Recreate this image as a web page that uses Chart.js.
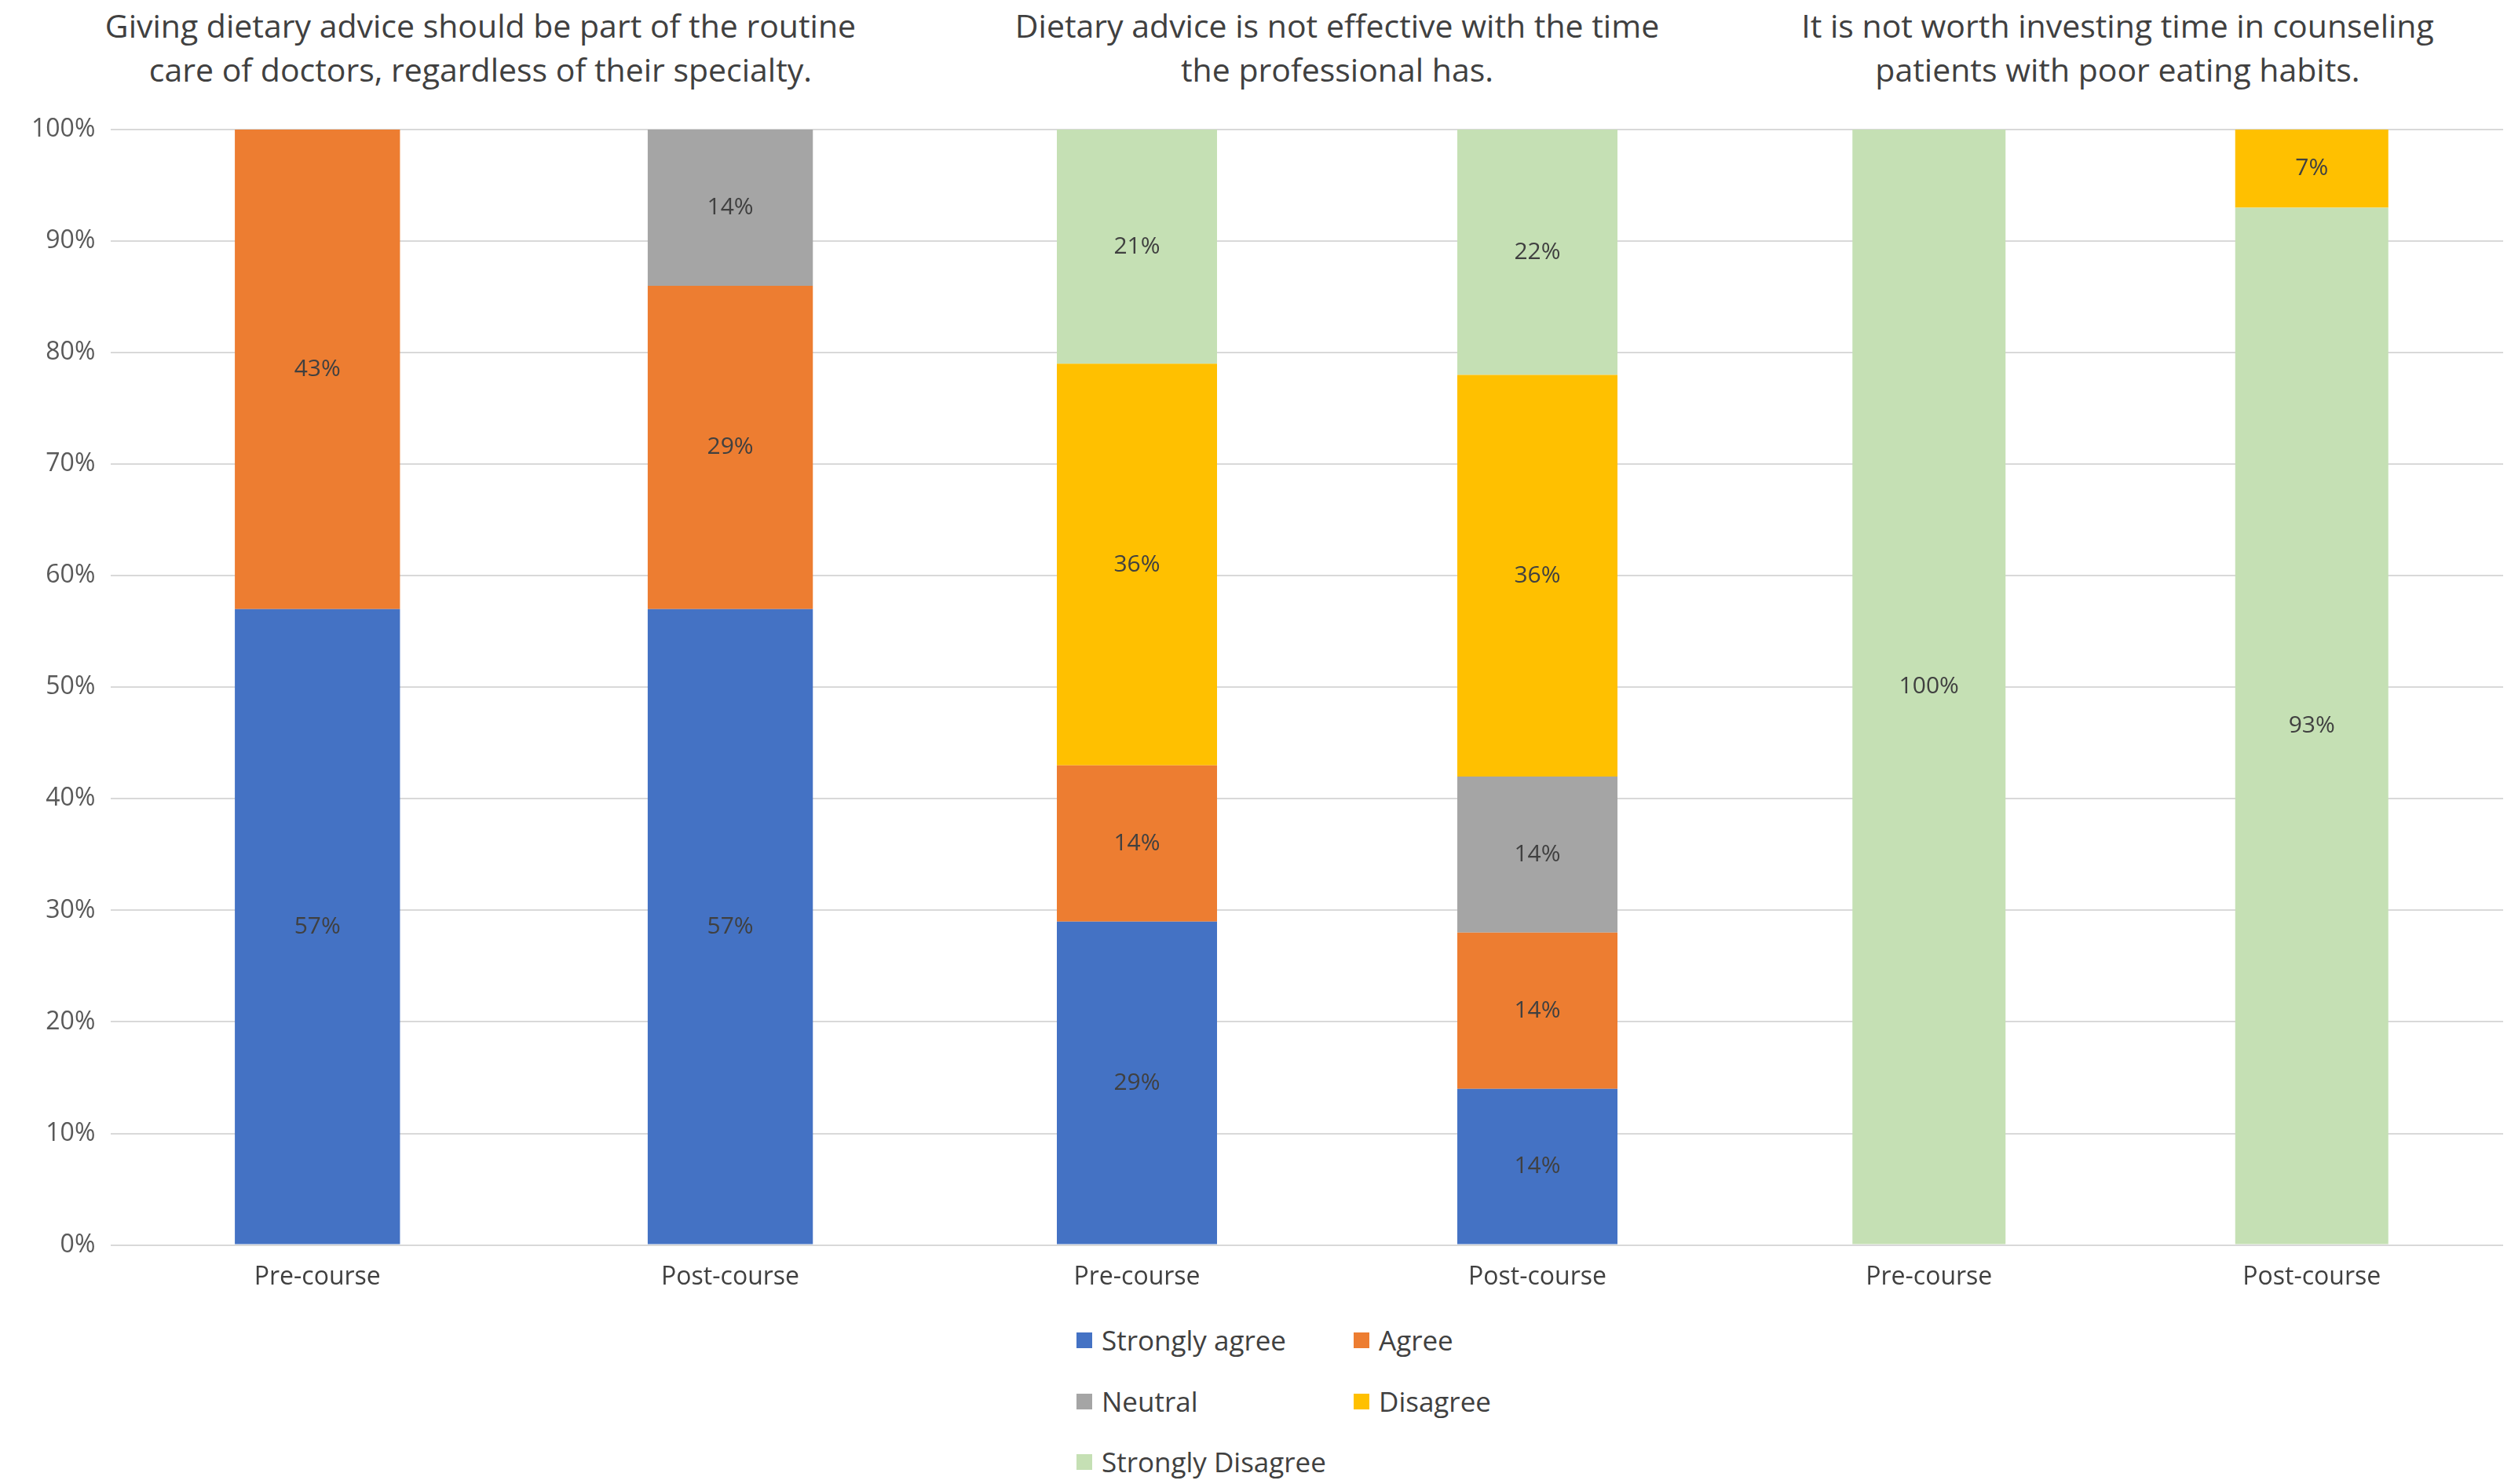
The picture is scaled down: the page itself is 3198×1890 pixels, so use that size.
<!DOCTYPE html>
<html><head><meta charset="utf-8">
<script src="https://cdn.jsdelivr.net/npm/chart.js@4"></script>
<style>
body{margin:0;background:#fff;width:3198px;height:1890px;position:relative;overflow:hidden;font-family:"Open Sans",Calibri,sans-serif;color:#404040}
.t{position:absolute;top:4px;font-size:41px;line-height:56px;text-align:center;width:1100px}
.p{position:absolute;top:0;height:1660px}
.lg{position:absolute;font-size:35px;color:#404040;display:flex;align-items:center}
.lg i{display:inline-block;width:20px;height:20px;margin-right:12px}
</style></head><body>
<div class="t" style="left:62px">Giving dietary advice should be part of the routine<br>care of doctors, regardless of their specialty.</div>
<div class="t" style="left:1153px">Dietary advice is not effective with the time<br>the professional has.</div>
<div class="t" style="left:2147px">It is not worth investing time in counseling<br>patients with poor eating habits.</div>
<div class="p" style="left:0;width:1193px"><canvas id="c1"></canvas></div>
<div class="p" style="left:1193px;width:1020px"><canvas id="c2"></canvas></div>
<div class="p" style="left:2213px;width:975px"><canvas id="c3"></canvas></div>
<div id="legend"></div>
<script>
// ---- data ----
const categories = ['Pre-course', 'Post-course'];
const yTicks = [0,10,20,30,40,50,60,70,80,90,100];
const labelsAll = ['Strongly agree','Agree','Neutral','Disagree','Strongly Disagree'];
const colors = {'Strongly agree':'#4472C4','Agree':'#ED7D31','Neutral':'#A5A5A5','Disagree':'#FFC000','Strongly Disagree':'#C5E0B4'};

// panel 1 (bottom -> top)
const p1Order = ['Strongly agree','Agree','Neutral'];
const p1Values = [[57,57],[43,29],[0,14]];
// panel 2
const p2Order = ['Strongly agree','Agree','Neutral','Disagree','Strongly Disagree'];
const p2Values = [[29,14],[14,14],[0,14],[36,36],[21,22]];
// panel 3
const p3Order = ['Strongly Disagree','Disagree'];
const p3Values = [[100,93],[0,7]];

const valueLabels = {
  id:'valueLabels',
  afterDatasetsDraw(chart){
    const ctx = chart.ctx;
    ctx.save();
    ctx.font = '30px "Open Sans", sans-serif';
    ctx.fillStyle = '#404040';
    ctx.textAlign = 'center'; ctx.textBaseline = 'middle';
    chart.data.datasets.forEach((ds,i)=>{
      chart.getDatasetMeta(i).data.forEach((bar,j)=>{
        const v = ds.data[j];
        if(!v) return;
        ctx.fillText(v+'%', bar.x, (bar.y+bar.base)/2);
      });
    });
    ctx.restore();
  }
};

function makeChart(id, order, values, showY, barPct){
  new Chart(document.getElementById(id), {
    type:'bar',
    data:{
      labels: categories,
      datasets: order.map((name,i)=>({
        label:name, data:values[i], backgroundColor:colors[name],
        barPercentage:barPct, categoryPercentage:1
      }))
    },
    options:{
      responsive:true, maintainAspectRatio:false, animation:false,
      layout:{padding:{top:165, right:0, left: showY?20:0, bottom:0}},
      plugins:{legend:{display:false}, tooltip:{enabled:false}},
      scales:{
        x:{stacked:true, grid:{display:false}, border:{color:'#d9d9d9'},
           ticks:{color:'#404040', font:{size:32, family:'"Open Sans", sans-serif'}, padding:14}},
        y:{stacked:true, min:0, max:100, afterBuildTicks:s=>{s.ticks = yTicks.map(v=>({value:v}));},
           grid:{color:'#d9d9d9', lineWidth:2, drawTicks:false}, border:{display:false},
           ticks:{display:showY, color:'#595959', padding:20, font:{size:32, family:'"Open Sans", sans-serif'}, callback:v=>v+'%'}}
      }
    },
    plugins:[valueLabels]
  });
}
makeChart('c1', p1Order, p1Values, true, 0.4);
makeChart('c2', p2Order, p2Values, false, 0.4);
makeChart('c3', p3Order, p3Values, false, 0.4);

// legend
const legendPos = [[1371,1707],[1724,1707],[1371,1785],[1724,1785],[1371,1862]];
labelsAll.forEach((name,i)=>{
  const d = document.createElement('div');
  d.className='lg';
  d.style.left=legendPos[i][0]+'px'; d.style.top=(legendPos[i][1]-24)+'px';
  d.innerHTML='<i style="background:'+colors[name]+'"></i>'+name;
  document.body.appendChild(d);
});
</script>
</body></html>
